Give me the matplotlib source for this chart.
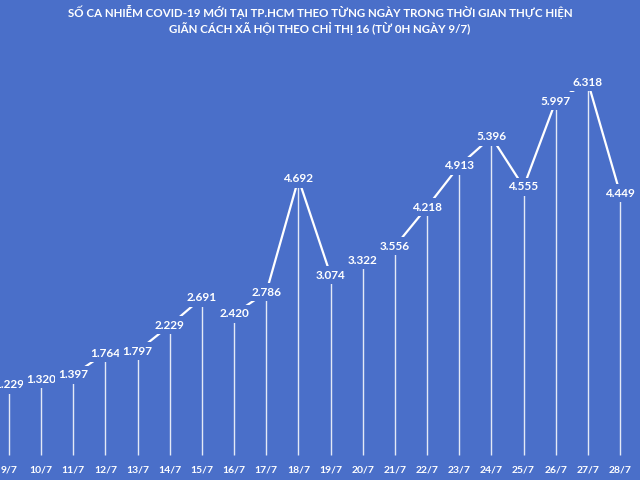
import numpy as np
import matplotlib
matplotlib.use('Agg')
import matplotlib.pyplot as plt

# data: new COVID-19 cases per day in HCMC (9/7 - 28/7)
dates = ['9/7', '10/7', '11/7', '12/7', '13/7', '14/7', '15/7', '16/7', '17/7', '18/7',
         '19/7', '20/7', '21/7', '22/7', '23/7', '24/7', '25/7', '26/7', '27/7', '28/7']
cases = [1229, 1320, 1397, 1764, 1797, 2229, 2691, 2420, 2786, 4692,
         3074, 3322, 3556, 4218, 4913, 5396, 4555, 5997, 6318, 4449]
labels = ['1.229', '1.320', '1.397', '1.764', '1.797', '2.229', '2.691', '2.420', '2.786', '4.692',
          '3.074', '3.322', '3.556', '4.218', '4.913', '5.396', '4.555', '5.997', '6.318', '4.449']

bg = '#4a6fc9'
plt.rcParams['font.family'] = ['Lato', 'DejaVu Sans']

fig = plt.figure(figsize=(6.4, 4.8), dpi=100)
fig.patch.set_facecolor(bg)
ax = fig.add_axes([0, 0, 1, 1])
ax.set_facecolor(bg)

x = np.arange(len(cases))
ax.plot(x, cases, color='white', lw=1.6, zorder=2)
ax.vlines(x, 50, cases, color='white', lw=1.0, alpha=0.85, zorder=1)

for xi, yi, lab in zip(x, cases, labels):
    ax.text(xi, yi, lab, ha='center', va='center', color='white', fontsize=8.5,
            fontweight='bold', zorder=3,
            bbox=dict(boxstyle='square,pad=0.3', fc=bg, ec='none'))
    ax.text(xi, -202, dates[xi], ha='center', va='center', color='white',
            fontsize=7.5, fontweight='bold')

ax.set_xlim(-0.28, 19.62)
ax.set_ylim(-370, 7697)
ax.axis('off')

fig.text(0.5, 0.975, 'SỐ CA NHIỄM COVID-19 MỚI TẠI TP.HCM THEO TỪNG NGÀY TRONG THỜI GIAN THỰC HIỆN',
         ha='center', va='center', color='white', fontsize=8.3, fontweight='bold')
fig.text(0.5, 0.941, 'GIÃN CÁCH XÃ HỘI THEO CHỈ THỊ 16 (TỪ 0H NGÀY 9/7)',
         ha='center', va='center', color='white', fontsize=8.3, fontweight='bold')

plt.savefig('out.png', dpi=100, facecolor=bg)
